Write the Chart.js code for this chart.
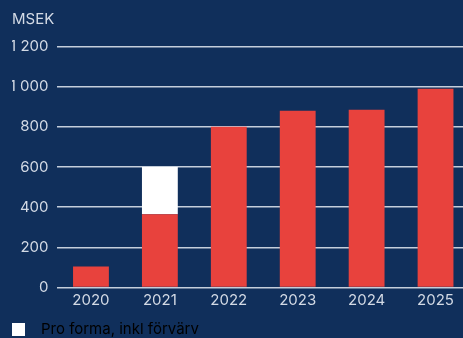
<!DOCTYPE html>
<html lang="sv">
<head>
  <meta charset="UTF-8">
  <title>MSEK</title>
  <script src="https://cdn.jsdelivr.net/npm/chart.js"></script>
  <style>
    * { margin: 0; padding: 0; box-sizing: border-box; }
    html, body { width: 463px; height: 338px; overflow: hidden; background: #102f5b; }
    /* canvas lite större än fönstret, kanten klipps bort */
    #wrap { width: 470px; height: 347px; }
  </style>
</head>
<body>
  <div id="wrap"><canvas id="chart"></canvas></div>

  <script>
    // Data
    const years = ['2020', '2021', '2022', '2023', '2024', '2025'];
    const reported = [105, 365, 800, 880, 885, 990];
    const proForma = [0, 235, 0, 0, 0, 0];   // extra ovanpå rapporterat
    const yTicks = [0, 200, 400, 600, 800, 1000, 1200];

    const textColor = '#d3dae5';
    const font = { family: 'Inter', size: 15, weight: 'normal' };

    const ctx = document.getElementById('chart').getContext('2d');
    new Chart(ctx, {
      type: 'bar',
      data: {
        labels: years,
        datasets: [
          {
            label: 'Rapporterat',
            data: reported,
            backgroundColor: '#e8423d',
            barPercentage: 0.52,
            categoryPercentage: 1,
          },
          {
            label: 'Pro forma, inkl förvärv',
            data: proForma,
            backgroundColor: '#ffffff',
            barPercentage: 0.52,
            categoryPercentage: 1,
          }
        ]
      },
      options: {
        responsive: true,
        maintainAspectRatio: false,
        animation: false,
        layout: { padding: { left: 12, right: 0, top: 0, bottom: 0 } },
        plugins: {
          title: {
            display: true,
            text: 'MSEK',
            align: 'start',
            color: textColor,
            font: font,
            padding: { top: 10, bottom: 18.5 }
          },
          legend: {
            position: 'bottom',
            align: 'start',
            labels: {
              generateLabels: chart => [{
                text: '  Pro forma, inkl förvärv',
                fillStyle: '#ffffff',
                strokeStyle: '#ffffff',
                lineWidth: 0,
                datasetIndex: 1
              }],
              color: textColor,
              font: font,
              boxWidth: 13,
              boxHeight: 13,
              padding: 0
            }
          },
          tooltip: { enabled: false }
        },
        scales: {
          x: {
            stacked: true,
            grid: { display: false, drawTicks: false },
            border: { display: false },
            ticks: { color: textColor, font: font, padding: 4 },
            afterFit: axis => { axis.height = 34.5; }
          },
          y: {
            stacked: true,
            min: 0,
            max: 1200,
            afterBuildTicks: axis => { axis.ticks = yTicks.map(v => ({ value: v })); },
            grid: { color: '#c4cedb', lineWidth: 1.5, drawTicks: false },
            border: { display: false },
            ticks: {
              color: textColor,
              font: font,
              padding: 8,
              callback: v => String(v).replace(/\B(?=(\d{3})+(?!\d))/g, ' ')
            },
            afterFit: axis => { axis.width = 44.5; }
          }
        }
      }
    });
  </script>
</body>
</html>
